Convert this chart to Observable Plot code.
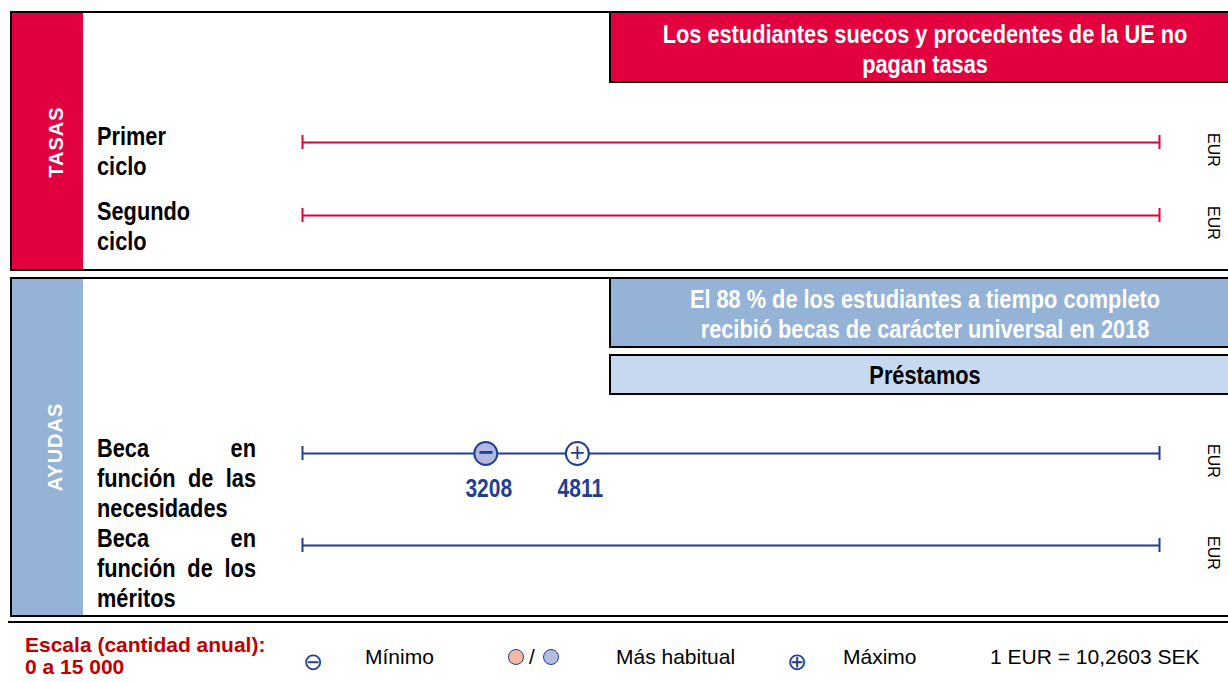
<!DOCTYPE html>
<html><head><meta charset="utf-8">
<script src="https://cdn.jsdelivr.net/npm/d3@7"></script>
<script src="https://cdn.jsdelivr.net/npm/@observablehq/plot@0.6"></script>
<style>
body{margin:0;background:#fff;}
#root{position:relative;width:1228px;height:682px;overflow:hidden;background:#fff;
  font-family:"Liberation Sans",Arial,sans-serif;}
.a{position:absolute;box-sizing:border-box;}
.panel{border:2px solid #000;}
.box{border:2px solid #000;}
.nb{font-family:"Liberation Sans",Arial,sans-serif;font-weight:bold;font-size:25px;line-height:30px;}
.ctr{text-align:center;white-space:nowrap;transform:scaleX(0.87);transform-origin:50% 0;}
.lab{transform:scaleX(0.87);transform-origin:0 0;white-space:nowrap;}
.side{color:#fff;font-family:"Liberation Sans",Arial,sans-serif;font-weight:bold;font-size:20px;letter-spacing:1px;white-space:nowrap;transform:translate(-50%,-50%) rotate(-90deg);}
.unit{font-family:"Liberation Sans",Arial,sans-serif;font-size:16px;white-space:nowrap;transform:translate(-50%,-50%) rotate(90deg);color:#000;}
.line{display:flex;justify-content:space-between;white-space:nowrap;}
.leg{font-family:"Liberation Sans",Arial,sans-serif;font-size:21px;line-height:22px;white-space:nowrap;color:#000;}
.legred{font-family:"Liberation Sans",Arial,sans-serif;font-weight:bold;font-size:21px;line-height:22px;color:#c00000;white-space:nowrap;}
.sym{font-family:"DejaVu Sans",sans-serif;font-size:24px;color:#1f3f92;transform:translate(-50%,-50%);line-height:1;}
.ldot{width:16px;height:16px;border-radius:50%;border:1.5px solid #1f3f92;transform:translate(-50%,-50%);}
</style></head>
<body><div id="root"></div>
<script>
// ---- data ----
const sections = ["TASAS", "AYUDAS"];
const rowLabels = [
  ["Primer", "ciclo"],
  ["Segundo", "ciclo"],
  ["Beca en", "función de las", "necesidades"],
  ["Beca en", "función de los", "méritos"]
];
const rowSection = ["TASAS", "TASAS", "AYUDAS", "AYUDAS"];
const scaleDomain = [0, 15000];
const minValues = [null, null, 3208, null];
const maxValues = [null, null, 4811, null];
const unitLabel = "EUR";
const feesBanner = ["Los estudiantes suecos y procedentes de la UE no", "pagan tasas"];
const aidBanner = ["El 88 % de los estudiantes a tiempo completo", "recibió becas de carácter universal en 2018"];
const loansLabel = "Préstamos";
const scaleLabel = ["Escala (cantidad anual):", "0 a 15 000"];
const legendMin = "Mínimo";
const legendUsual = "Más habitual";
const legendMax = "Máximo";
const exchangeRate = "1 EUR = 10,2603 SEK";

// ---- styles / layout ----
const RED = "#e2003e", BLUE = "#1f3f92", SIDEBLUE = "#95b3d7", LIGHTBLUE = "#c6d9f1";
const sectionColor = {TASAS: RED, AYUDAS: BLUE};
const rowY = [142, 215, 453, 545];
const labelTop = [121, 196, 433, 523];
const K = 0.87;

const root = document.getElementById("root");
function el(cls, css, html) {
  const d = document.createElement("div");
  d.className = "a " + cls;
  Object.assign(d.style, css);
  if (html != null) d.innerHTML = html;
  root.appendChild(d);
  return d;
}

// panels
el("panel", {left: "10px", top: "11px", width: "1240px", height: "260px"});
el("", {left: "12px", top: "13px", width: "71px", height: "256px", background: RED});
el("panel", {left: "10px", top: "277px", width: "1240px", height: "340px"});
el("", {left: "12px", top: "279px", width: "71px", height: "336px", background: SIDEBLUE});
el("", {left: "8px", top: "621px", width: "1230px", height: "2px", background: "#000"});

el("side", {left: "56px", top: "142px"}, sections[0]);
el("side", {left: "55px", top: "447px"}, sections[1]);

// banners (text centred on x = 925)
el("box", {left: "609px", top: "11px", width: "640px", height: "72px", background: RED});
el("nb ctr", {left: "525px", top: "19px", width: "800px", color: "#fff"}, feesBanner.join("<br>"));
el("box", {left: "609px", top: "277px", width: "640px", height: "71px", background: SIDEBLUE});
el("nb ctr", {left: "525px", top: "284px", width: "800px", color: "#fff"}, aidBanner.join("<br>"));
el("box", {left: "609px", top: "354px", width: "640px", height: "41px", background: LIGHTBLUE});
el("nb ctr", {left: "525px", top: "360px", width: "800px", color: "#000"}, loansLabel);

// row labels
rowLabels.forEach((lines, i) => {
  const html = lines.map((ln, j) => {
    const words = ln.split(" ");
    if (lines.length > 2 && j < lines.length - 1) {
      return `<div class="line">${words.map(w => `<span>${w}</span>`).join("")}</div>`;
    }
    return `<div>${ln}</div>`;
  }).join("");
  el("nb lab", {left: "97px", top: labelTop[i] + "px", width: (159 / K) + "px", color: "#000"}, html);
  el("unit", {left: "1213px", top: (rowY[i] + 8) + "px"}, unitLabel);
});

// row plots
rowLabels.forEach((_, i) => {
  const color = sectionColor[rowSection[i]];
  const H = 100;
  const marks = [
    Plot.ruleY([0], {x1: scaleDomain[0], x2: scaleDomain[1], stroke: color, strokeWidth: 2}),
    Plot.ruleX(scaleDomain, {x: d => d, stroke: color, strokeWidth: 2, insetTop: 43, insetBottom: 43})
  ];
  const vals = [];
  if (minValues[i] != null) {
    marks.push(Plot.dot([minValues[i]], {x: d => d, y: 0, r: 11.5, fill: "#b2b8e0", stroke: color, strokeWidth: 2}));
    marks.push(Plot.text([minValues[i]], {x: d => d, y: 0, text: () => "−", fontSize: 26, fontWeight: "bold", fill: color, dy: -1}));
    vals.push(minValues[i]);
  }
  if (maxValues[i] != null) {
    marks.push(Plot.dot([maxValues[i]], {x: d => d, y: 0, r: 11.5, fill: "#fff", stroke: color, strokeWidth: 2}));
    marks.push(Plot.text([maxValues[i]], {x: d => d, y: 0, text: () => "+", fontSize: 26, fill: color, dy: -1}));
    vals.push(maxValues[i]);
  }
  if (vals.length) {
    marks.push(Plot.text(vals, {x: d => d, y: 0, dy: 35, dx: 3, text: d => String(d), fontSize: 25, fontWeight: "bold", fill: color}));
  }
  const svg = Plot.plot({
    width: 1228, height: H,
    marginLeft: 302, marginRight: 69, marginTop: 0, marginBottom: 0,
    x: {domain: scaleDomain, axis: null},
    y: {domain: [-1, 1], axis: null},
    style: {background: "transparent", fontFamily: '"Liberation Sans",Arial,sans-serif', overflow: "visible"},
    marks
  });
  // condense the numeric value labels horizontally (narrow bold look)
  svg.querySelectorAll("text").forEach(t => {
    if (!/^\d+$/.test(t.textContent)) return;
    const tr = t.getAttribute("transform");
    if (tr) {
      t.setAttribute("transform", tr + " scale(0.84,1)");
    } else {
      const x = +t.getAttribute("x") || 0, y = +t.getAttribute("y") || 0;
      t.removeAttribute("x"); t.removeAttribute("y");
      t.setAttribute("transform", `translate(${x},${y}) scale(0.84,1)`);
    }
  });
  svg.style.position = "absolute";
  svg.style.left = "0px";
  svg.style.top = (rowY[i] - H / 2) + "px";
  root.appendChild(svg);
});

// legend
el("legred", {left: "25px", top: "634px"}, scaleLabel.join("<br>"));
el("sym", {left: "313px", top: "662px"}, "⊖");
el("leg", {left: "365px", top: "646px"}, legendMin);
el("ldot", {left: "516px", top: "657px", background: "#f5b7a3"});
el("leg", {left: "529px", top: "646px"}, "/");
el("ldot", {left: "551px", top: "657px", background: "#b3bde2"});
el("leg", {left: "616px", top: "646px"}, legendUsual);
el("sym", {left: "797px", top: "662px"}, "⊕");
el("leg", {left: "843px", top: "646px"}, legendMax);
el("leg", {left: "990px", top: "646px"}, exchangeRate);
</script></body></html>
